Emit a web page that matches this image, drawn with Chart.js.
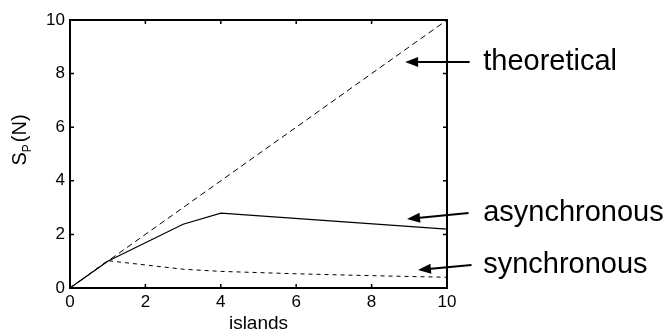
<!DOCTYPE html>
<html>
<head>
<meta charset="utf-8">
<script src="https://cdn.jsdelivr.net/npm/chart.js@4/dist/chart.umd.min.js"></script>
<style>
  html, body { margin: 0; padding: 0; background: #fff; }
  #wrap { width: 667px; height: 336px; }
</style>
</head>
<body>
<div id="wrap"><canvas id="chart"></canvas></div>
<script>
// data
const theoryX = [0, 10];
const theoryY = [0, 10];
const asyncX = [0, 1, 3, 4, 10];
const asyncY = [0, 1, 2.38, 2.79, 2.2];
const syncX = [0, 1, 3, 4, 6, 8, 10];
const syncY = [0, 1.02, 0.7, 0.62, 0.53, 0.46, 0.4];
const tickValues = [0, 2, 4, 6, 8, 10];

// labels with arrows: text, arrow tip, tail (data coords)
const notes = [
  { text: 'theoretical', tip: [8.89, 8.43], tail: [10.6, 8.43] },
  { text: 'asynchronous', tip: [8.94, 2.57], tail: [10.57, 2.8] },
  { text: 'synchronous', tip: [9.23, 0.67], tail: [10.65, 0.86] }
];
const noteTextX = 10.96;

function pts(xs, ys) {
  return xs.map((x, i) => ({ x: x, y: ys[i] }));
}

const FONT = 'Arial, "Liberation Sans", sans-serif';

const frame = {
  id: 'frame',
  afterDraw(chart) {
    const ctx = chart.ctx;
    const a = chart.chartArea;
    const xs = chart.scales.x, ys = chart.scales.y;
    ctx.save();
    ctx.strokeStyle = '#000';
    ctx.lineWidth = 2;
    ctx.strokeRect(a.left, a.top, a.right - a.left, a.bottom - a.top);
    // inward ticks on all sides
    ctx.lineWidth = 1.5;
    ctx.beginPath();
    tickValues.forEach(v => {
      const px = xs.getPixelForValue(v);
      ctx.moveTo(px, a.bottom); ctx.lineTo(px, a.bottom - 4);
      ctx.moveTo(px, a.top); ctx.lineTo(px, a.top + 4);
      const py = ys.getPixelForValue(v);
      ctx.moveTo(a.left, py); ctx.lineTo(a.left + 4, py);
      ctx.moveTo(a.right, py); ctx.lineTo(a.right - 4, py);
    });
    ctx.stroke();

    // y title with subscript
    ctx.translate(26, 140);
    ctx.rotate(-Math.PI / 2);
    ctx.fillStyle = '#000';
    ctx.textBaseline = 'alphabetic';
    ctx.font = '20px ' + FONT;
    const wS = ctx.measureText('S').width;
    ctx.font = '12px ' + FONT;
    const wP = ctx.measureText('P').width;
    ctx.font = '20px ' + FONT;
    const wN = ctx.measureText('(N)').width;
    const total = wS + wP + 2 + wN;
    let x0 = -total / 2;
    ctx.fillText('S', x0, 0);
    ctx.font = '12px ' + FONT;
    ctx.fillText('P', x0 + wS, 5);
    ctx.font = '20px ' + FONT;
    ctx.fillText('(N)', x0 + wS + wP + 2, 0);
    ctx.restore();

    // annotations
    ctx.save();
    ctx.fillStyle = '#000';
    ctx.strokeStyle = '#000';
    ctx.lineWidth = 2;
    ctx.font = '29px ' + FONT;
    ctx.textBaseline = 'middle';
    const textX = xs.getPixelForValue(noteTextX);
    notes.forEach(n => {
      const tx = xs.getPixelForValue(n.tip[0]), ty = ys.getPixelForValue(n.tip[1]);
      const sx = xs.getPixelForValue(n.tail[0]), sy = ys.getPixelForValue(n.tail[1]);
      const ang = Math.atan2(ty - sy, tx - sx);
      const hl = 13, hw = 5;
      const bx = tx - hl * Math.cos(ang), by = ty - hl * Math.sin(ang);
      ctx.beginPath();
      ctx.moveTo(sx, sy); ctx.lineTo(bx, by);
      ctx.stroke();
      ctx.beginPath();
      ctx.moveTo(tx, ty);
      ctx.lineTo(bx - hw * Math.sin(ang), by + hw * Math.cos(ang));
      ctx.lineTo(bx + hw * Math.sin(ang), by - hw * Math.cos(ang));
      ctx.closePath();
      ctx.fill();
      ctx.fillText(n.text, textX, sy);
    });
    ctx.restore();
  }
};

new Chart(document.getElementById('chart'), {
  type: 'line',
  data: {
    datasets: [
      { label: 'theoretical', data: pts(theoryX, theoryY), borderColor: '#000', borderWidth: 1, borderDash: [6, 4], pointRadius: 0, tension: 0 },
      { label: 'asynchronous', data: pts(asyncX, asyncY), borderColor: '#000', borderWidth: 1.2, pointRadius: 0, tension: 0 },
      { label: 'synchronous', data: pts(syncX, syncY), borderColor: '#000', borderWidth: 1, borderDash: [4, 4], pointRadius: 0, tension: 0 }
    ]
  },
  options: {
    responsive: true,
    maintainAspectRatio: false,
    animation: false,
    layout: { padding: { top: 20, right: 220, left: 0, bottom: 0 } },
    plugins: { legend: { display: false }, tooltip: { enabled: false } },
    scales: {
      x: {
        type: 'linear', min: 0, max: 10,
        afterFit(s) { s.height = 48; },
        grid: { display: false, drawTicks: false },
        border: { display: false },
        ticks: { stepSize: 2, padding: 4, color: '#000', font: { family: FONT, size: 17 } },
        title: { display: true, text: 'islands', color: '#000', padding: { top: 0, bottom: 1 }, font: { family: FONT, size: 19 } }
      },
      y: {
        type: 'linear', min: 0, max: 10,
        afterFit(s) { s.width = 70; },
        grid: { display: false, drawTicks: false },
        border: { display: false },
        ticks: { stepSize: 2, padding: 5, color: '#000', font: { family: FONT, size: 17 } }
      }
    }
  },
  plugins: [frame]
});
</script>
</body>
</html>
